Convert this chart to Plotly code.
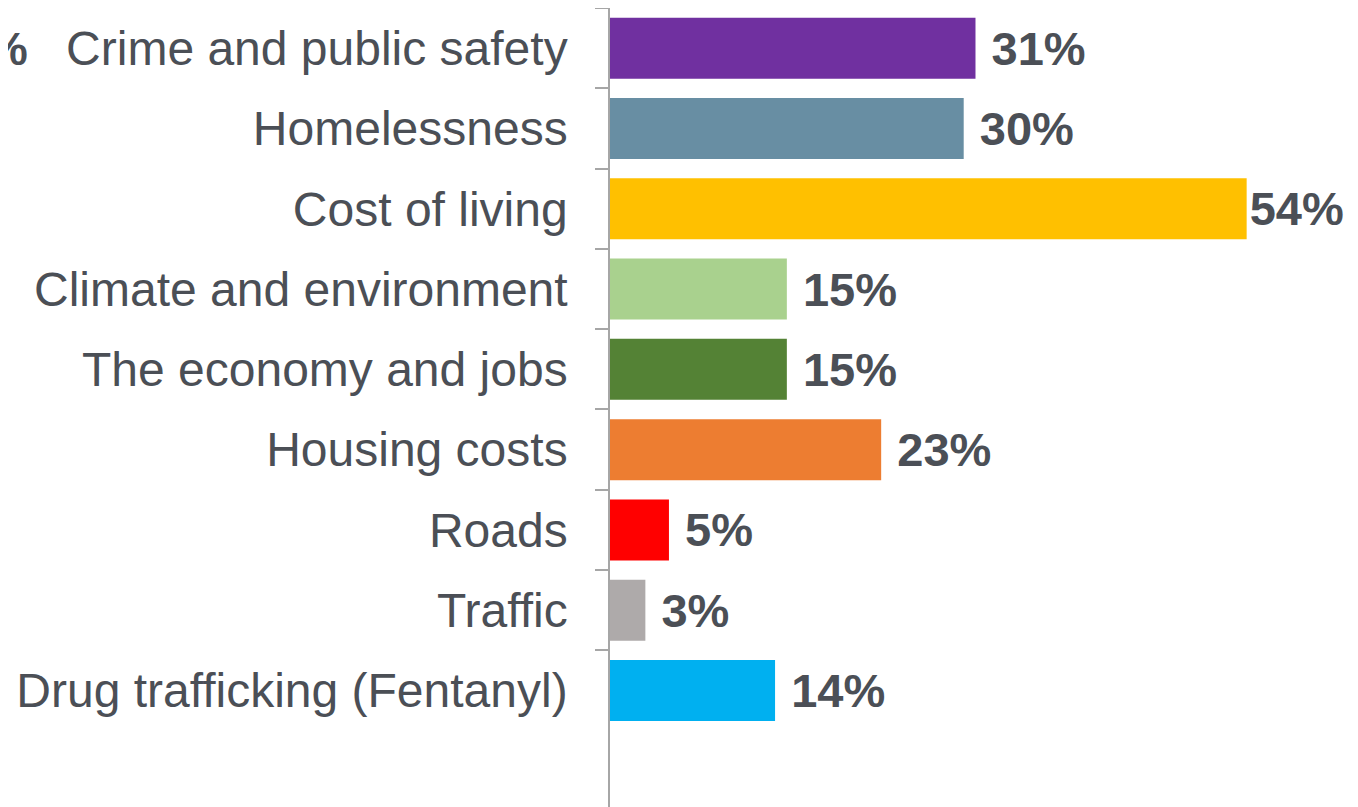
import plotly.graph_objects as go

categories = ["Crime and public safety", "Homelessness", "Cost of living",
              "Climate and environment", "The economy and jobs", "Housing costs",
              "Roads", "Traffic", "Drug trafficking (Fentanyl)"]
values = [31, 30, 54, 15, 15, 23, 5, 3, 14]
colors = ["#7030A0", "#688EA3", "#FFC000", "#A9D18E", "#548235", "#ED7D31",
          "#FF0000", "#AEAAAA", "#00B0F0"]

labels = [(" " if v < 50 else "") + f"{v}%" for v in values]

TEXT = "#4B4F56"
FONT = "Liberation Sans, Arial, sans-serif"

L = 602
W = 1358

fig = go.Figure(go.Bar(
    y=categories, x=values, orientation="h",
    marker=dict(color=colors, line=dict(width=0)),
    text=labels, textposition="outside", cliponaxis=False,
    textfont=dict(family=FONT, size=47, color=TEXT, weight="bold"),
))

fig.add_annotation(text="<b>%</b>", xref="paper", yref="y", x=(22 - L) / (W - L),
                   y=categories[0], xanchor="right", yanchor="middle", showarrow=False,
                   font=dict(family=FONT, size=47, color=TEXT))

fig.update_layout(
    width=W, height=807,
    margin=dict(l=L, r=0, t=0, b=0, autoexpand=False),
    paper_bgcolor="white", plot_bgcolor="white",
    bargap=0.24, showlegend=False,
    font=dict(family=FONT, color=TEXT),
)
fig.update_xaxes(range=[0, (W - L) / 11.79], visible=False, showgrid=False,
                 zeroline=False, automargin=False)
fig.update_yaxes(
    type="category", categoryorder="array", categoryarray=categories,
    range=[9.55, -0.5], tickson="boundaries", ticks="outside", ticklen=13,
    tickcolor="#A6A6A6", tickwidth=1.5, showline=True, linecolor="#A6A6A6", linewidth=1.5,
    showgrid=False, zeroline=False, tickfont=dict(family=FONT, size=48, color=TEXT),
    ticklabelstandoff=31, automargin=False,
)

fig.write_html("out.html")
